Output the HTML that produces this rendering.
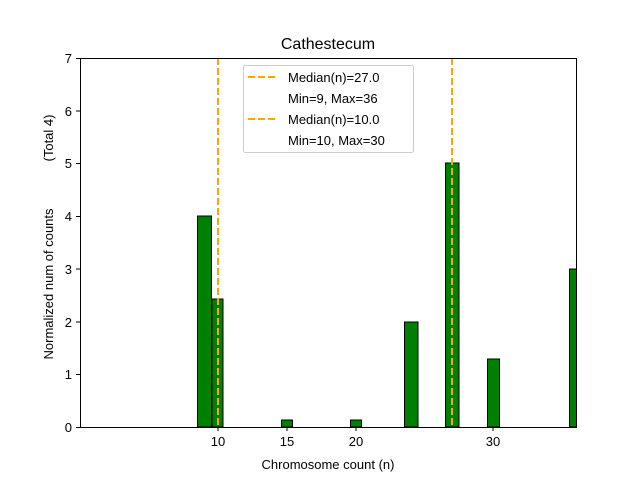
<!DOCTYPE html>
<html><head><style>body{margin:0;background:#fff}svg{display:block}</style></head><body>
<svg width="640" height="480" xmlns="http://www.w3.org/2000/svg" font-family="Liberation Sans, DejaVu Sans, sans-serif">
<rect width="640" height="480" fill="#fff"/>
<g fill="#008000" stroke="#000" stroke-width="1">
<rect x="197.5" y="216" width="14" height="211"/>
<rect x="212" y="299" width="11" height="128"/>
<rect x="281.5" y="420" width="11" height="7"/>
<rect x="350.5" y="420" width="11" height="7"/>
<rect x="404.5" y="322" width="13.5" height="105"/>
<rect x="445.5" y="163" width="13.5" height="264"/>
<rect x="487.5" y="359" width="12" height="68"/>
<rect x="569.5" y="269" width="7" height="158"/>
</g>
<g stroke="#ffa500" stroke-width="2" stroke-dasharray="7,3">
<line x1="218" y1="58" x2="218" y2="427"/>
<line x1="452" y1="58" x2="452" y2="427"/>
</g>
<rect x="80.5" y="58.5" width="496" height="369" fill="none" stroke="#000" stroke-width="1"/>
<g stroke="#000">
<line x1="218" y1="427" x2="218" y2="431"/><line x1="287" y1="427" x2="287" y2="431"/>
<line x1="356" y1="427" x2="356" y2="431"/><line x1="493" y1="427" x2="493" y2="431"/>
<line x1="76" y1="427.5" x2="80" y2="427.5"/><line x1="76" y1="374.5" x2="80" y2="374.5"/>
<line x1="76" y1="322" x2="80" y2="322"/><line x1="76" y1="269" x2="80" y2="269"/>
<line x1="76" y1="216.5" x2="80" y2="216.5"/><line x1="76" y1="163.5" x2="80" y2="163.5"/>
<line x1="76" y1="111" x2="80" y2="111"/><line x1="76" y1="58.5" x2="80" y2="58.5"/>
</g>
<g font-size="13" fill="#000" text-anchor="middle">
<text x="218" y="446">10</text><text x="287" y="446">15</text><text x="356" y="446">20</text><text x="493" y="446">30</text>
</g>
<g font-size="13" fill="#000" text-anchor="end">
<text x="72" y="432">0</text><text x="72" y="379">1</text><text x="72" y="327">2</text><text x="72" y="274">3</text>
<text x="72" y="221">4</text><text x="72" y="168">5</text><text x="72" y="116">6</text><text x="72" y="63">7</text>
</g>
<text x="328" y="469" font-size="13" text-anchor="middle">Chromosome count (n)</text>
<text transform="translate(53,284) rotate(-90)" font-size="13" text-anchor="middle">Normalized num of counts</text>
<text transform="translate(53,138) rotate(-90)" font-size="13" text-anchor="middle">(Total 4)</text>
<text x="328" y="49" font-size="16" text-anchor="middle">Cathestecum</text>
<rect x="243.5" y="65.5" width="170" height="87" rx="2" fill="#fff" fill-opacity="0.8" stroke="#ccc"/>
<g stroke="#ffa500" stroke-width="2" stroke-dasharray="7,3">
<line x1="248" y1="77" x2="278" y2="77"/><line x1="248" y1="119" x2="278" y2="119"/>
</g>
<g font-size="13" fill="#000">
<text x="288" y="82">Median(n)=27.0</text>
<text x="288" y="103">Min=9, Max=36</text>
<text x="288" y="124">Median(n)=10.0</text>
<text x="288" y="145">Min=10, Max=30</text>
</g>
</svg>
</body></html>
